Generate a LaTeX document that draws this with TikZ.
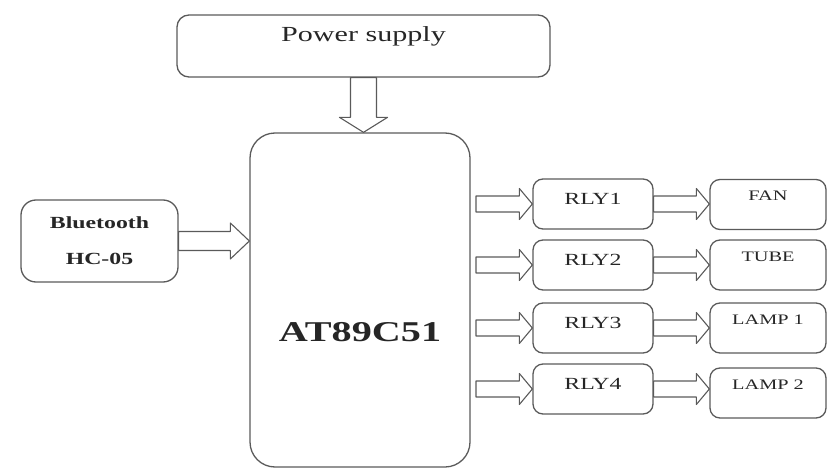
\documentclass[tikz,border=0pt]{standalone}
\usepackage{fontspec}
\setmainfont{Liberation Serif}[FakeStretch=1.4]
\usetikzlibrary{calc}

\definecolor{linegray}{HTML}{5A5A5A}
\definecolor{textgray}{HTML}{262626}

\begin{document}
\begin{tikzpicture}[
    % 以像素为单位，y 轴向下
    x=1pt,
    y=-1pt,
    line cap=round,
    line join=round,
    box/.style={draw=linegray, line width=1.3pt, inner sep=0pt, text=textgray},
    relay/.style={box, rounded corners=10pt, minimum width=120pt,
      text height=25pt, text depth=25pt, font=\fontsize{17}{20}\selectfont},
    load/.style={box, rounded corners=10pt, minimum width=116pt,
      text height=21pt, text depth=29pt, font=\fontsize{14.5}{17}\selectfont},
    % 空心粗箭头：#1 杆半宽，#2 箭头半宽，#3 箭头长度
    blockarrow/.style n args={3}{draw=linegray, line width=1.1pt, to path={
      ($(\tikztotarget)!#3!(\tikztostart)$) coordinate (hb)
      ($(\tikztostart)!#1!90:(\tikztotarget)$)
      -- ($(hb)!#1!90:(\tikztotarget)$)
      -- ($(hb)!#2!90:(\tikztotarget)$)
      -- (\tikztotarget)
      -- ($(hb)!#2!-90:(\tikztotarget)$)
      -- ($(hb)!#1!-90:(\tikztotarget)$)
      -- ($(\tikztostart)!#1!-90:(\tikztotarget)$)
      -- cycle}},
  ]

  \useasboundingbox (0,0) rectangle (827,468);

  % 电源与单片机
  \node[box, rounded corners=12pt, minimum width=373pt, text height=27pt, text depth=35pt,
    font=\fontsize{21.5}{24}\selectfont] (power) at (363.5,46) {Power supply};
  \node[box, rounded corners=25pt, minimum width=220pt, text height=208pt, text depth=126pt,
    font=\bfseries\fontsize{28.7}{32}\selectfont] (mcu) at (360,300) {AT89C51};

  % 蓝牙模块
  \node[box, rounded corners=15pt, minimum width=157pt, minimum height=82pt, align=center,
    font=\bfseries\fontsize{17}{36}\selectfont] (bt) at (99.5,241) {Bluetooth\\HC-05};

  % 继电器
  \node[relay] (rly1) at (593,204) {RLY1};
  \node[relay] (rly2) at (593,265) {RLY2};
  \node[relay] (rly3) at (593,328) {RLY3};
  \node[relay] (rly4) at (593,389) {RLY4};

  % 负载
  \node[load] (fan)   at (768,204.5) {FAN};
  \node[load] (tube)  at (768,265)   {TUBE};
  \node[load] (lamp1) at (768,328)   {LAMP 1};
  \node[load] (lamp2) at (768,393)   {LAMP 2};

  % 继电器输入箭头的起点
  \coordinate (in1) at (476,204);
  \coordinate (in2) at (476,265);
  \coordinate (in3) at (476,328);
  \coordinate (in4) at (476,389);

  % 箭头
  \draw[blockarrow={13pt}{24pt}{15pt}] (power.south) to (power.south |- mcu.north);
  \draw[blockarrow={9.5pt}{18pt}{19pt}] (bt.east) to (bt.east -| mcu.west);

  \draw[blockarrow={8pt}{15.5pt}{13pt}] (in1) to (rly1.west);
  \draw[blockarrow={8pt}{15.5pt}{13pt}] (in2) to (rly2.west);
  \draw[blockarrow={8pt}{15.5pt}{13pt}] (in3) to (rly3.west);
  \draw[blockarrow={8pt}{15.5pt}{13pt}] (in4) to (rly4.west);

  \draw[blockarrow={8pt}{15.5pt}{13pt}] (rly1.east) to (rly1.east -| fan.west);
  \draw[blockarrow={8pt}{15.5pt}{13pt}] (rly2.east) to (rly2.east -| tube.west);
  \draw[blockarrow={8pt}{15.5pt}{13pt}] (rly3.east) to (rly3.east -| lamp1.west);
  \draw[blockarrow={8pt}{15.5pt}{13pt}] (rly4.east) to (rly4.east -| lamp2.west);

\end{tikzpicture}
\end{document}
